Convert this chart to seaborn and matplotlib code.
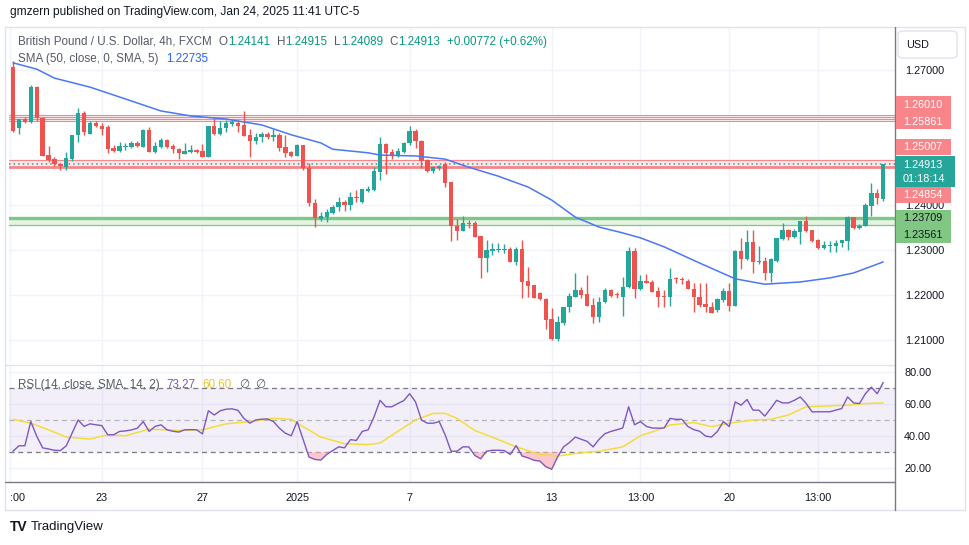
import matplotlib
matplotlib.use("Agg")
import matplotlib.pyplot as plt
from matplotlib.patches import Rectangle, FancyBboxPatch
from matplotlib.lines import Line2D
import seaborn as sns
import numpy as np
import pandas as pd

# GBP/USD 4h candles
opens = [1.2707, 1.2571, 1.2591, 1.2584, 1.2662, 1.2593, 1.2511, 1.2502, 1.2491, 1.2484,
         1.2502, 1.2556, 1.2604, 1.2558, 1.2582, 1.2576, 1.2573, 1.2527, 1.2520, 1.2529,
         1.2529, 1.2538, 1.2529, 1.2567, 1.2518, 1.2529, 1.2544, 1.2531, 1.2524, 1.2513,
         1.2518, 1.2522, 1.2520, 1.2507, 1.2576, 1.2558, 1.2571, 1.2580, 1.2582, 1.2578,
         1.2556, 1.2542, 1.2551, 1.2558, 1.2551, 1.2556, 1.2529, 1.2518, 1.2509, 1.2533,
         1.2482, 1.2404, 1.2369, 1.2373, 1.2382, 1.2396, 1.2407, 1.2400, 1.2418, 1.2407,
         1.2431, 1.2433, 1.2473, 1.2536, 1.2518, 1.2511, 1.2518, 1.2538, 1.2564, 1.2542,
         1.2500, 1.2476, 1.2482, 1.2491, 1.2451, 1.2353, 1.2342, 1.2360, 1.2360, 1.2331,
         1.2282, 1.2298, 1.2300, 1.2300, 1.2302, 1.2273, 1.2302, 1.2231, 1.2222, 1.2204,
         1.2191, 1.2147, 1.2102, 1.2138, 1.2173, 1.2196, 1.2211, 1.2202, 1.2178, 1.2151,
         1.2184, 1.2211, 1.2202, 1.2196, 1.2218, 1.2298, 1.2213, 1.2231, 1.2229, 1.2209,
         1.2197, 1.2196, 1.2236, 1.2234, 1.2231, 1.2213, 1.2196, 1.2180, 1.2173, 1.2167,
         1.2189, 1.2209, 1.2176, 1.2298, 1.2280, 1.2318, 1.2273, 1.2276, 1.2249, 1.2276,
         1.2324, 1.2344, 1.2329, 1.2340, 1.2364, 1.2344, 1.2322, 1.2304, 1.2308, 1.2309,
         1.2316, 1.2320, 1.2373, 1.2349, 1.2353, 1.2398, 1.2427, 1.24141]
highs = [1.2720, 1.2591, 1.2596, 1.2667, 1.2664, 1.2596, 1.2531, 1.2507, 1.2493, 1.2518,
         1.2556, 1.2616, 1.2609, 1.2587, 1.2587, 1.2582, 1.2578, 1.2533, 1.2540, 1.2538,
         1.2542, 1.2542, 1.2569, 1.2573, 1.2540, 1.2549, 1.2547, 1.2536, 1.2527, 1.2538,
         1.2533, 1.2524, 1.2536, 1.2576, 1.2593, 1.2587, 1.2589, 1.2589, 1.2589, 1.2609,
         1.2569, 1.2560, 1.2562, 1.2562, 1.2569, 1.2560, 1.2556, 1.2520, 1.2536, 1.2533,
         1.2493, 1.2413, 1.2384, 1.2391, 1.2400, 1.2418, 1.2411, 1.2429, 1.2433, 1.2436,
         1.2442, 1.2484, 1.2551, 1.2538, 1.2524, 1.2527, 1.2540, 1.2576, 1.2569, 1.2544,
         1.2502, 1.2487, 1.2489, 1.2496, 1.2451, 1.2369, 1.2376, 1.2367, 1.2364, 1.2331,
         1.2322, 1.2316, 1.2316, 1.2313, 1.2307, 1.2307, 1.2322, 1.2262, 1.2222, 1.2207,
         1.2193, 1.2171, 1.2153, 1.2173, 1.2204, 1.2249, 1.2218, 1.2244, 1.2193, 1.2196,
         1.2216, 1.2213, 1.2207, 1.2240, 1.2307, 1.2304, 1.2244, 1.2247, 1.2233, 1.2218,
         1.2211, 1.2260, 1.2240, 1.2240, 1.2236, 1.2227, 1.2227, 1.2227, 1.2184, 1.2193,
         1.2216, 1.2227, 1.2300, 1.2327, 1.2344, 1.2344, 1.2309, 1.2284, 1.2282, 1.2327,
         1.2360, 1.2347, 1.2347, 1.2364, 1.2376, 1.2344, 1.2324, 1.2320, 1.2320, 1.2322,
         1.2322, 1.2376, 1.2373, 1.2358, 1.2404, 1.2449, 1.2436, 1.24915]
lows = [1.2562, 1.2558, 1.2582, 1.2582, 1.2587, 1.2509, 1.2496, 1.2487, 1.2478, 1.2478,
        1.2498, 1.2540, 1.2556, 1.2558, 1.2573, 1.2556, 1.2516, 1.2518, 1.2518, 1.2522,
        1.2527, 1.2529, 1.2529, 1.2518, 1.2516, 1.2527, 1.2527, 1.2516, 1.2502, 1.2513,
        1.2516, 1.2516, 1.2507, 1.2507, 1.2556, 1.2556, 1.2562, 1.2576, 1.2562, 1.2553,
        1.2507, 1.2536, 1.2540, 1.2547, 1.2542, 1.2520, 1.2507, 1.2507, 1.2509, 1.2478,
        1.2398, 1.2351, 1.2364, 1.2362, 1.2380, 1.2387, 1.2387, 1.2389, 1.2407, 1.2404,
        1.2429, 1.2431, 1.2456, 1.2469, 1.2502, 1.2507, 1.2516, 1.2533, 1.2527, 1.2482,
        1.2473, 1.2471, 1.2478, 1.2440, 1.2320, 1.2322, 1.2342, 1.2349, 1.2329, 1.2238,
        1.2251, 1.2289, 1.2296, 1.2293, 1.2273, 1.2267, 1.2193, 1.2196, 1.2193, 1.2189,
        1.2124, 1.2100, 1.2098, 1.2133, 1.2162, 1.2196, 1.2193, 1.2176, 1.2138, 1.2140,
        1.2182, 1.2196, 1.2193, 1.2153, 1.2216, 1.2193, 1.2211, 1.2227, 1.2207, 1.2173,
        1.2173, 1.2176, 1.2227, 1.2224, 1.2213, 1.2162, 1.2173, 1.2162, 1.2160, 1.2162,
        1.2184, 1.2164, 1.2176, 1.2258, 1.2278, 1.2249, 1.2269, 1.2233, 1.2229, 1.2273,
        1.2322, 1.2322, 1.2327, 1.2313, 1.2340, 1.2318, 1.2302, 1.2302, 1.2296, 1.2296,
        1.2307, 1.2300, 1.2347, 1.2347, 1.2353, 1.2376, 1.2402, 1.24089]
closes = [1.2564, 1.2591, 1.2584, 1.2662, 1.2593, 1.2509, 1.2500, 1.2491, 1.2487, 1.2504,
          1.2556, 1.2604, 1.2562, 1.2582, 1.2576, 1.2569, 1.2524, 1.2520, 1.2531, 1.2531,
          1.2538, 1.2531, 1.2567, 1.2518, 1.2531, 1.2544, 1.2529, 1.2524, 1.2516, 1.2520,
          1.2522, 1.2518, 1.2507, 1.2576, 1.2558, 1.2571, 1.2582, 1.2584, 1.2576, 1.2553,
          1.2542, 1.2551, 1.2558, 1.2551, 1.2556, 1.2527, 1.2516, 1.2509, 1.2533, 1.2482,
          1.2404, 1.2371, 1.2376, 1.2384, 1.2396, 1.2407, 1.2400, 1.2418, 1.2416, 1.2436,
          1.2436, 1.2476, 1.2536, 1.2516, 1.2511, 1.2520, 1.2538, 1.2564, 1.2542, 1.2498,
          1.2476, 1.2484, 1.2487, 1.2449, 1.2353, 1.2342, 1.2360, 1.2358, 1.2329, 1.2282,
          1.2300, 1.2302, 1.2302, 1.2302, 1.2273, 1.2302, 1.2229, 1.2220, 1.2193, 1.2191,
          1.2144, 1.2102, 1.2140, 1.2173, 1.2198, 1.2211, 1.2200, 1.2176, 1.2151, 1.2184,
          1.2211, 1.2198, 1.2200, 1.2218, 1.2298, 1.2213, 1.2231, 1.2227, 1.2207, 1.2196,
          1.2195, 1.2236, 1.2235, 1.2233, 1.2213, 1.2196, 1.2178, 1.2173, 1.2160, 1.2191,
          1.2209, 1.2176, 1.2298, 1.2280, 1.2318, 1.2273, 1.2275, 1.2249, 1.2280, 1.2327,
          1.2344, 1.2329, 1.2342, 1.2364, 1.2342, 1.2320, 1.2304, 1.2311, 1.2309, 1.2316,
          1.2322, 1.2373, 1.2349, 1.2353, 1.2400, 1.2427, 1.2416, 1.24913]

# SMA(50) line, sampled at candle positions
sma_idx = [0, 4, 7, 13, 18, 25, 30, 36, 42, 47, 52, 54, 60, 62, 68, 73, 77, 82, 87,
           91, 95, 99, 103, 106, 110, 116, 122, 127, 133, 138, 142, 147]
sma_val = [1.2716, 1.2702, 1.2682, 1.2662, 1.2640, 1.2609, 1.2598, 1.2591, 1.2578, 1.2556,
           1.2538, 1.2524, 1.2516, 1.2511, 1.2509, 1.2502, 1.2484, 1.2464, 1.2440, 1.2411,
           1.2373, 1.2351, 1.2338, 1.2327, 1.2307, 1.2271, 1.2236, 1.2224, 1.2229, 1.2238,
           1.2249, 1.22735]

# RSI(14), one value per candle
rsi_vals = [30.6, 34, 34, 49, 40, 32.7, 32, 31.2, 31, 34,
            42, 50, 46, 47.6, 47, 46.5, 40.8, 40.8, 42.9, 43.2,
            43.8, 44.9, 49, 42.9, 46, 47, 43.9, 43, 42.5, 43.9,
            44, 43.9, 41.4, 55.7, 53.1, 55.7, 56.7, 56.9, 56, 51,
            48, 50, 50.5, 50.6, 49, 44.9, 41.8, 40.2, 49, 38,
            27, 25.5, 25.1, 28.6, 31, 33.3, 32.7, 37.8, 37.3, 42.9,
            43.9, 52, 62.2, 58.2, 58.2, 60.2, 62, 66.3, 61.2, 50,
            48, 48, 49, 40.8, 30.6, 30.6, 33.3, 33.3, 28, 25.9,
            30.6, 31.2, 31.2, 31, 28.6, 34.1, 27.6, 26.5, 25, 24.5,
            21, 19.4, 27, 33.3, 36, 39.4, 38, 36.7, 33.3, 38,
            41.5, 42.9, 43.9, 45, 58.2, 47, 49, 46, 45, 44.9,
            45, 51, 50.4, 50.4, 46, 44, 43, 40, 39.4, 42.9,
            49, 45.9, 61.2, 59.2, 62.7, 56.1, 56.1, 52.4, 57.1, 62.2,
            60.6, 60.6, 62.2, 64.3, 60.2, 55, 55.1, 55.1, 55.1, 56.1,
            57.1, 64.3, 60.6, 60.2, 66.3, 70.4, 66.3, 73.27]

# RSI-based moving average, sampled
rsi_ma_idx = [0, 3, 6, 9, 13, 16, 19, 23, 28, 32, 36, 40, 44, 47, 49, 52, 56, 60, 62,
              65, 68, 71, 73, 75, 78, 82, 85, 89, 92, 95, 99, 103, 106, 109, 111, 115,
              118, 121, 125, 128, 131, 134, 137, 141, 144, 147]
rsi_ma_val = [50.4, 48, 43.9, 39.4, 38.2, 40.8, 40.2, 44.3, 43.5, 43.9, 47.6, 49, 51, 50.4,
              45.9, 39.4, 35.3, 34.7, 35.7, 42.9, 50, 54.1, 54.1, 51, 43.5, 37.8, 33.3,
              28.6, 27.6, 29.2, 30.6, 33.3, 40.2, 43.9, 46.9, 48.4, 45.9, 48, 50, 50.4,
              53.1, 58.2, 58.6, 59.2, 60.2, 60.6]

# horizontal zones drawn on the chart
red_zone_top = [1.26010, 1.25962, 1.25911, 1.25861]
red_zone_mid = [1.25007, 1.24854]
green_zone = [1.23709, 1.23561]
last_price = 1.24913
countdown = "01:18:14"

tick_pos = [-0.5, 15, 32, 48, 67, 91, 106, 121, 136]
tick_labels = [":00", "23", "27", "2025", "7", "13", "13:00", "20", "13:00"]
price_ticks = [1.21, 1.22, 1.23, 1.24, 1.25, 1.26, 1.27]
hidden_price_ticks = [1.25, 1.26]   # covered by the level labels on the scale
rsi_ticks = [20, 40, 60, 80]

TEAL = "#26a69a"
RED = "#ef5350"
GRID = "#f0f3fa"
TXT = "#131722"
ZONE_RED = "#f7858a"

sns.set_theme(style="white")
plt.rcParams["font.family"] = ["Liberation Sans", "DejaVu Sans"]

W, H = 970, 545
fig = plt.figure(figsize=(W / 100, H / 100), dpi=100)
fig.patch.set_facecolor("white")


def fx(x):
    return x / W


def fy(y):
    return 1 - y / H


ax = fig.add_axes([fx(9), fy(363), fx(895) - fx(9), fy(27) - fy(363)])
axr = fig.add_axes([fx(9), fy(482), fx(895) - fx(9), fy(366) - fy(482)], sharex=ax)

df = pd.DataFrame({"open": opens, "high": highs, "low": lows, "close": closes})
df["i"] = np.arange(len(df))
df["up"] = df["close"] >= df["open"]

# zones
ax.axhspan(red_zone_top[-1], red_zone_top[0], color="#fde8e8", zorder=1, lw=0)
for lv in red_zone_top:
    ax.axhline(lv, color=ZONE_RED, lw=0.75, zorder=2)
ax.axhspan(red_zone_mid[1], red_zone_mid[0], color="#fde8e8", zorder=1, lw=0)
ax.axhline(red_zone_mid[0], color=ZONE_RED, lw=0.8, zorder=2)
ax.axhline(red_zone_mid[1], color=ZONE_RED, lw=2.0, zorder=2)
ax.axhspan(green_zone[1], green_zone[0], color="#e3f4e4", zorder=1, lw=0)
ax.axhline(green_zone[0], color="#81c784", lw=2.4, zorder=2)
ax.axhline(green_zone[1], color="#81c784", lw=0.9, zorder=2)
ax.axhline(last_price, color=TEAL, lw=1.1, ls=(0, (1, 2)), zorder=3)

# candles
for _, r in df.iterrows():
    col = TEAL if r["up"] else RED
    ax.vlines(r["i"], r["low"], r["high"], color=col, lw=1.0, zorder=4)
    lo = min(r["open"], r["close"])
    h = max(abs(r["close"] - r["open"]), 0.00022)
    ax.bar(r["i"], h, bottom=lo, width=0.74, color=col, lw=0, zorder=5)

sns.lineplot(x=sma_idx, y=sma_val, ax=ax, color="#4a78f5", lw=1.1, zorder=6)

ax.set_xlim(-0.68, 149.0)
ax.set_ylim(1.20489, 1.27956)
ax.set_yticks(price_ticks)
ax.set_yticklabels(["" if v in hidden_price_ticks else f"{v:.5f}" for v in price_ticks])
ax.yaxis.tick_right()
ax.tick_params(axis="y", length=0, pad=7.5, labelsize=7.8, labelcolor=TXT)
ax.tick_params(axis="x", length=0, labelbottom=False)
ax.grid(True, color=GRID, lw=1)
for s in ax.spines.values():
    s.set_visible(False)

# RSI pane
axr.axhspan(30, 70, color="#7e57c2", alpha=0.09, lw=0, zorder=1)
for lv, c in [(70, "#787b86"), (50, "#b2b5be"), (30, "#787b86")]:
    axr.axhline(lv, color=c, lw=0.9, ls=(0, (4, 3)), zorder=2)
rsi = np.array(rsi_vals)
xi = np.arange(len(rsi))
axr.fill_between(xi, rsi, 30, where=rsi < 30, interpolate=True, color="#f7b5bd", alpha=0.75, lw=0, zorder=2)
axr.fill_between(xi, rsi, 70, where=rsi > 70, interpolate=True, color="#b9e2bc", alpha=0.75, lw=0, zorder=2)
sns.lineplot(x=rsi_ma_idx, y=rsi_ma_val, ax=axr, color="#f5dc3a", lw=1.1, zorder=3)
sns.lineplot(x=xi, y=rsi, ax=axr, color="#7e57c2", lw=1.0, zorder=4)
axr.set_ylim(11.5, 83.5)
axr.set_yticks(rsi_ticks)
axr.set_yticklabels([f"{v:.2f}" for v in rsi_ticks])
axr.yaxis.tick_right()
axr.tick_params(axis="y", length=0, pad=6.5, labelsize=7.8, labelcolor=TXT)
axr.set_xticks(tick_pos)
axr.set_xticklabels(tick_labels)
axr.tick_params(axis="x", length=0, pad=8, labelsize=7.8, labelcolor=TXT)
axr.get_xticklabels()[0].set_ha("left")
axr.grid(True, color=GRID, lw=1)
ax.set_xticks(tick_pos)
for s in axr.spines.values():
    s.set_visible(False)
axr.set_xlabel("")
axr.set_ylabel("")
ax.set_xlabel("")
ax.set_ylabel("")


# frame lines
def fline(x0, y0, x1, y1, c, lw=1.0):
    fig.add_artist(Line2D([fx(x0), fx(x1)], [fy(y0), fy(y1)], color=c, lw=lw))


fline(5, 27, 965, 27, "#e0e3eb")
fline(5, 510, 965, 510, "#e0e3eb")
fline(5, 27, 5, 510, "#e0e3eb")
fline(965, 27, 965, 510, "#e0e3eb")
fline(5, 364.5, 895, 364.5, "#e0e3eb")
fline(5, 482, 895, 482, "#787b86")
fline(895, 27, 895, 510, "#787b86")


def fbox(x0, y0, x1, y1, col, ec="none"):
    fig.add_artist(Rectangle((fx(x0), fy(y1)), fx(x1) - fx(x0), fy(y0) - fy(y1),
                             facecolor=col, edgecolor=ec, lw=0, zorder=5))


def ftext(x, y, s, col=TXT, size=7.8, ha="left", **kw):
    return fig.text(fx(x), fy(y), s, color=col, fontsize=size, ha=ha, va="center", zorder=6, **kw)


# price scale labels
fbox(895.5, 96, 951, 129, ZONE_RED)
ftext(903, 105, f"{red_zone_top[0]:.5f}", "white")
ftext(903, 122, f"{red_zone_top[-1]:.5f}", "white")
fbox(895.5, 139, 951, 155, ZONE_RED)
ftext(903, 147, f"{red_zone_mid[0]:.5f}", "white")
fbox(895.5, 156, 955, 187, TEAL)
ftext(903, 165, f"{last_price:.5f}", "white")
ftext(903, 179, countdown, "white")
fbox(895.5, 187, 951, 203, ZONE_RED)
ftext(903, 195, f"{red_zone_mid[1]:.5f}", "white")
fbox(895.5, 210, 951, 243, "#81c784")
ftext(903, 218, f"{green_zone[0]:.5f}", TXT)
ftext(903, 235, f"{green_zone[1]:.5f}", TXT)

fig.add_artist(FancyBboxPatch((fx(898), fy(58)), fx(957) - fx(898), fy(31) - fy(58),
                              boxstyle="round,pad=0,rounding_size=0.006",
                              facecolor="white", edgecolor="#e0e3eb", lw=1, zorder=5))
ftext(906, 45, "USD", TXT, 7.8)

# header and legends
ftext(10, 12, "gmzern published on TradingView.com, Jan 24, 2025 11:41 UTC-5", TXT, 8.6)

renderer = fig.canvas.get_renderer()


def pieces(x, y, items, size=8.4):
    for s, c, gap in items:
        t = ftext(x, y, s, c, size)
        x += t.get_window_extent(renderer).width + gap


LEG = "#555a66"
VAL = "#089981"
pieces(18, 42, [("British Pound / U.S. Dollar, 4h, FXCM", LEG, 7),
                ("O", LEG, 0), ("1.24141", VAL, 7),
                ("H", LEG, 0), ("1.24915", VAL, 7),
                ("L", LEG, 0), ("1.24089", VAL, 7),
                ("C", LEG, 0), ("1.24913", VAL, 7),
                ("+0.00772 (+0.62%)", VAL, 0)])
pieces(18, 59, [("SMA (50, close, 0, SMA, 5)", LEG, 8), (f"{sma_val[-1]:.5f}", "#2962ff", 0)])
pieces(18, 385, [("RSI (14, close, SMA, 14, 2)", LEG, 7), (f"{rsi_vals[-1]:.2f}", "#7e57c2", 7),
                 (f"{rsi_ma_val[-1]:.2f}", "#e8c820", 7), ("\u2205", LEG, 6), ("\u2205", LEG, 0)])

# footer logo
ftext(10, 527, "TV", "#131722", 10, fontweight="heavy")
ftext(31, 527, "TradingView", "#131722", 9.5)

fig.savefig("out.png", dpi=100)
